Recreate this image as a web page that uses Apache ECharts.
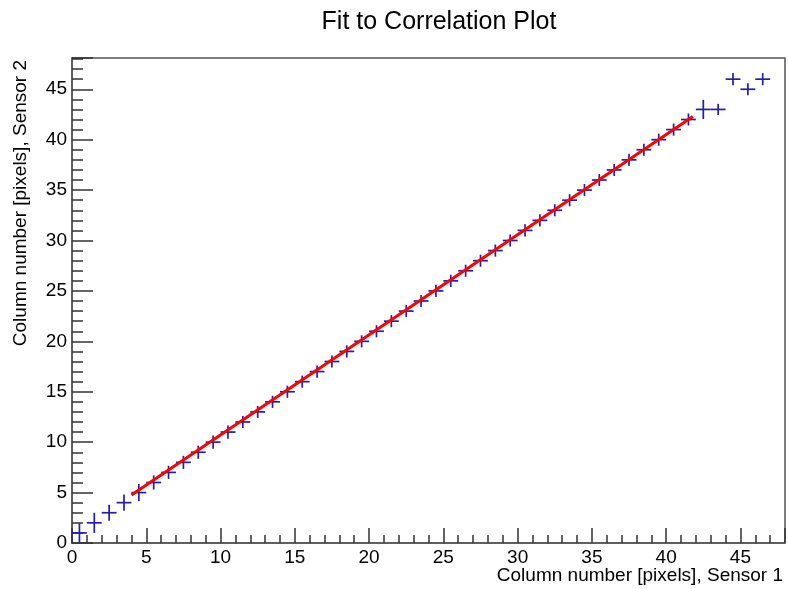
<!DOCTYPE html>
<html>
<head>
<meta charset="utf-8">
<script src="https://cdn.jsdelivr.net/npm/echarts@6/dist/echarts.min.js"></script>
<style>html,body{margin:0;padding:0;background:#fff}#c{width:788px;height:589px}</style>
</head>
<body>
<div id="c"></div>
<script>
var xVals = [0.5,1.5,2.5,3.5,4.5,5.5,6.5,7.5,8.5,9.5,10.5,11.5,12.5,13.5,14.5,15.5,16.5,17.5,18.5,19.5,20.5,21.5,22.5,23.5,24.5,25.5,26.5,27.5,28.5,29.5,30.5,31.5,32.5,33.5,34.5,35.5,36.5,37.5,38.5,39.5,40.5,41.5,42.5,43.5,44.5,45.5,46.5];
var yVals = [1,2,3,4,5,6,7,8,9,10,11,12,13,14,15,16,17,18,19,20,21,22,23,24,25,26,27,28,29,30,31,32,33,34,35,36,37,38,39,40,41,42,43,43,46,45,46];
var xErr = [0.5,0.5,0.5,0.5,0.5,0.5,0.5,0.5,0.5,0.5,0.5,0.5,0.5,0.5,0.5,0.5,0.5,0.5,0.5,0.5,0.5,0.5,0.5,0.5,0.5,0.5,0.5,0.5,0.5,0.5,0.5,0.5,0.5,0.5,0.5,0.5,0.5,0.5,0.5,0.5,0.5,0.5,0.5,0.5,0.5,0.5,0.5];
var yErr = [0.95,1.0,0.8,0.8,0.85,0.7,0.65,0.65,0.65,0.65,0.65,0.6,0.6,0.6,0.6,0.6,0.6,0.6,0.6,0.6,0.6,0.6,0.6,0.6,0.6,0.6,0.6,0.6,0.6,0.6,0.6,0.6,0.6,0.6,0.6,0.6,0.6,0.6,0.6,0.6,0.6,0.6,0.95,0.55,0.6,0.6,0.6];
var fitX = [4.0, 41.8];
var fitY = [4.75, 42.3];
var xTicks = [0,5,10,15,20,25,30,35,40,45];
var yTicks = [0,5,10,15,20,25,30,35,40,45];

var pts = xVals.map(function(x,i){return [x, yVals[i], xErr[i], yErr[i]];});
var fitData = fitX.map(function(x,i){return [x, fitY[i]];});
var FONT = 'Liberation Sans';

var chart = echarts.init(document.getElementById('c'), null, {renderer:'canvas'});
chart.setOption({
  animation:false,
  backgroundColor:'#fff',
  title:{text:'Fit to Correlation Plot', left:434, top:5, textAlign:'center',
    textStyle:{fontFamily:FONT,fontSize:25,fontWeight:'normal',color:'#000'}},
  grid:{left:72,right:3,top:58,bottom:46,show:true,borderColor:'#555',borderWidth:1.5,backgroundColor:'transparent'},
  xAxis:{type:'value',min:0,max:48,interval:5,
    axisLine:{onZero:false,lineStyle:{color:'#555',width:1.5}},
    axisTick:{inside:true,length:15,lineStyle:{color:'#333',width:1.5}},
    minorTick:{show:true,splitNumber:5,length:8,lineStyle:{color:'#333',width:1.5}},
    splitLine:{show:false},
    axisLabel:{margin:5,fontFamily:FONT,fontSize:19,color:'#000',showMaxLabel:false,
      formatter:function(v){return xTicks.indexOf(v)>=0?String(v):'';}}
  },
  yAxis:{type:'value',min:0,max:48.1,interval:5,
    axisLine:{onZero:false,lineStyle:{color:'#555',width:1.5}},
    axisTick:{inside:true,length:21,lineStyle:{color:'#333',width:1.5}},
    minorTick:{show:true,splitNumber:5,length:11,lineStyle:{color:'#333',width:1.5}},
    splitLine:{show:false},
    axisLabel:{margin:5,fontFamily:FONT,fontSize:19,color:'#000',showMaxLabel:false,
      formatter:function(v){return yTicks.indexOf(v)>=0?String(v):'';}}
  },
  graphic:[
    {type:'text',right:5,top:566,style:{text:'Column number [pixels], Sensor 1',fontFamily:FONT,fontSize:19,fill:'#000'}},
    {type:'text',x:21,y:60,rotation:Math.PI/2,style:{text:'Column number [pixels], Sensor 2',fontFamily:FONT,fontSize:19,fill:'#000',align:'right',verticalAlign:'middle'}}
  ],
  series:[
    {type:'custom',data:pts,z:3,
      renderItem:function(params,api){
        var x=api.value(0),y=api.value(1),ex=api.value(2),ey=api.value(3);
        var a=api.coord([x-ex,y]),b=api.coord([x+ex,y]),c=api.coord([x,y-ey]),d=api.coord([x,y+ey]);
        var st={stroke:'#2020a8',lineWidth:1.7};
        return {type:'group',children:[
          {type:'line',shape:{x1:a[0],y1:a[1],x2:b[0],y2:b[1]},style:st},
          {type:'line',shape:{x1:c[0],y1:c[1],x2:d[0],y2:d[1]},style:st}
        ]};
      }},
    {type:'line',data:fitData,z:5,symbol:'none',lineStyle:{color:'#ff0000',width:3}}
  ]
});
</script>
</body>
</html>
